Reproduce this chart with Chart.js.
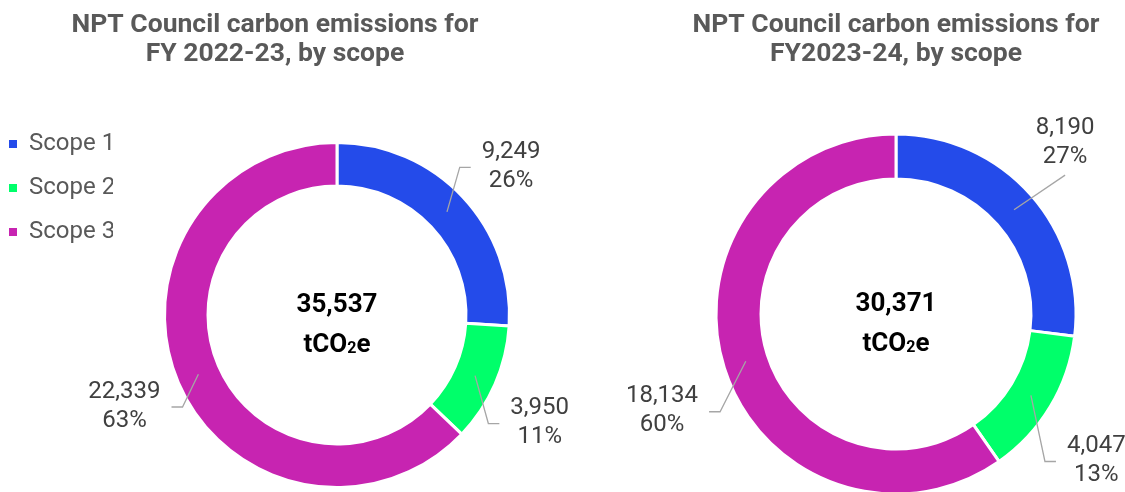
<!DOCTYPE html>
<html>
<head>
<meta charset="utf-8">
<script src="https://cdn.jsdelivr.net/npm/chart.js@4.4.1/dist/chart.umd.min.js"></script>
<style>
    html, body { margin: 0; padding: 0; background: #fff; overflow: hidden; width: 1125px; height: 492px; }
    .wrap { position: absolute; top: 0; }
    #wrapLeft { left: 0; width: 580px; height: 518px; }
    #wrapRight { left: 560px; width: 565px; height: 516px; }
</style>
</head>
<body>
<div class="wrap" id="wrapLeft"><canvas id="chart2223"></canvas></div>
<div class="wrap" id="wrapRight"><canvas id="chart2324"></canvas></div>
<script>
// Data
const scopes = ['Scope 1', 'Scope 2', 'Scope 3'];
const emissions2223 = [9249, 3950, 22339];
const emissions2324 = [8190, 4047, 18134];
const total2223 = 35537;
const total2324 = 30371;
const title2223 = ['NPT Council carbon emissions for', 'FY 2022-23, by scope'];
const title2324 = ['NPT Council carbon emissions for', 'FY2023-24, by scope'];
const unitLabel = ['tCO', '2', 'e'];

const scopeColors = ['#244BEA', '#00FF6A', '#C724B1'];
const FONT = 'Roboto';
Chart.defaults.font.family = FONT;

// Callout labels with leader lines, placed outside the ring
const calloutLabels = {
    id: 'calloutLabels',
    afterDatasetsDraw(chart, args, opts) {
        const ctx = chart.ctx;
        const meta = chart.getDatasetMeta(0);
        const values = chart.data.datasets[0].data;
        const sum = values.reduce((a, b) => a + b, 0);
        ctx.save();
        ctx.font = '24px ' + FONT;
        ctx.textAlign = 'center';
        ctx.textBaseline = 'middle';
        meta.data.forEach((arc, i) => {
            const mid = (arc.startAngle + arc.endAngle) / 2;
            const rMid = (arc.innerRadius + arc.outerRadius) / 2;
            const ax = arc.x + Math.cos(mid) * rMid;
            const ay = arc.y + Math.sin(mid) * rMid;
            const rl = arc.outerRadius + opts.distance;
            const lx = arc.x + Math.cos(mid) * rl + opts.nudge[i][0];
            const ly = arc.y + Math.sin(mid) * rl + opts.nudge[i][1];

            const line1 = values[i].toLocaleString('en-GB');
            const line2 = Math.round(values[i] / sum * 100) + '%';
            const halfW = Math.max(ctx.measureText(line1).width, ctx.measureText(line2).width) / 2;

            // leader line
            ctx.strokeStyle = '#A6A6A6';
            ctx.lineWidth = 1.3;
            ctx.beginPath();
            ctx.moveTo(ax, ay);
            const side = ax < lx ? -1 : 1;
            const edge = lx + side * halfW;
            if (Math.abs(ax - edge) < 25 || (side < 0 && ax > edge) || (side > 0 && ax < edge)) {
                // connect to bottom / top of the label
                const ey = ay > ly ? ly + 33 : ly - 33;
                ctx.lineTo(lx, ey);
            } else {
                const ex = lx + side * (halfW + 11);
                ctx.lineTo(ex + side * 11, ly + 1);
                ctx.lineTo(ex, ly + 1);
            }
            ctx.stroke();

            ctx.fillStyle = '#404040';
            ctx.fillText(line1, lx, ly - 14.5);
            ctx.fillText(line2, lx, ly + 14.5);
        });
        ctx.restore();
    }
};

// Total in the middle of the doughnut
const centerTotal = {
    id: 'centerTotal',
    afterDraw(chart, args, opts) {
        const arc = chart.getDatasetMeta(0).data[0];
        if (!arc) return;
        const ctx = chart.ctx;
        const cx = arc.x, cy = arc.y;
        ctx.save();
        ctx.fillStyle = '#000';
        ctx.textBaseline = 'alphabetic';
        ctx.textAlign = 'center';
        ctx.font = 'bold 26px ' + FONT;
        ctx.fillText(opts.total.toLocaleString('en-GB'), cx, cy - 3);

        // tCO2e with subscript 2
        const big = 'bold 26px ' + FONT, small = 'bold 16px ' + FONT;
        ctx.font = big;
        const w1 = ctx.measureText(unitLabel[0]).width;
        const w3 = ctx.measureText(unitLabel[2]).width;
        ctx.font = small;
        const w2 = ctx.measureText(unitLabel[1]).width;
        let x = cx - (w1 + w2 + w3) / 2;
        ctx.textAlign = 'left';
        ctx.font = big;
        ctx.fillText(unitLabel[0], x, cy + 37);
        x += w1;
        ctx.font = small;
        ctx.fillText(unitLabel[1], x, cy + 38.5);
        x += w2;
        ctx.font = big;
        ctx.fillText(unitLabel[2], x, cy + 37);
        ctx.restore();
    }
};

// Keep the legend column a fixed width so the ring sits where it should
const legendWidth = {
    id: 'legendWidth',
    beforeInit(chart, args, opts) {
        const legend = chart.legend;
        if (!legend) return;
        const fit = legend.fit;
        legend.fit = function () {
            fit.call(this);
            if (this.options.display) this.width = opts.width;
        };
    }
};

function legendItems(chart) {
    const items = Chart.controllers.doughnut.overrides.plugins.legend.labels.generateLabels(chart);
    return items.map(item => ({ ...item, lineWidth: 0, strokeStyle: item.fillStyle }));
}

function createScopeChart(canvasId, values, title, total, cfg) {
    const ctx = document.getElementById(canvasId);
    return new Chart(ctx, {
        type: 'doughnut',
        data: {
            labels: scopes,
            datasets: [{
                data: values,
                backgroundColor: scopeColors,
                borderColor: '#ffffff',
                borderWidth: 3,
                radius: cfg.radius,
                cutout: cfg.cutout
            }]
        },
        options: {
            responsive: true,
            maintainAspectRatio: false,
            animation: false,
            layout: { padding: cfg.padding },
            plugins: {
                title: {
                    display: true,
                    text: title,
                    color: '#595959',
                    font: { size: 26.5, weight: 'bold', lineHeight: 1.094 },
                    padding: { top: 11, bottom: 43 }
                },
                legend: {
                    display: cfg.legend,
                    position: 'left',
                    align: 'start',
                    fullSize: false,
                    labels: {
                        boxWidth: 8,
                        boxHeight: 8,
                        padding: 20,
                        color: '#595959',
                        font: { size: 24 },
                        generateLabels: legendItems
                    }
                },
                tooltip: { enabled: false },
                legendWidth: { width: 124 },
                calloutLabels: { distance: cfg.labelDistance, nudge: cfg.nudge },
                centerTotal: { total: total }
            }
        },
        plugins: [legendWidth, calloutLabels, centerTotal]
    });
}

createScopeChart('chart2223', emissions2223, title2223, total2223, {
    radius: 172.5,
    cutout: (129 / 172.5 * 100) + '%',
    padding: { left: -11, right: 19, top: 0, bottom: 0 },
    legend: true,
    labelDistance: 56.5,
    nudge: [[7, 8], [-7, 15.5], [-2, 1]]
});

createScopeChart('chart2324', emissions2324, title2324, total2324, {
    radius: 180,
    cutout: (135 / 180 * 100) + '%',
    padding: { left: 107, right: 0, top: 0, bottom: 0 },
    legend: false,
    labelDistance: 69,
    nudge: [[-17.5, -7], [-13, 18], [3.5, 22]]
});
</script>
</body>
</html>
